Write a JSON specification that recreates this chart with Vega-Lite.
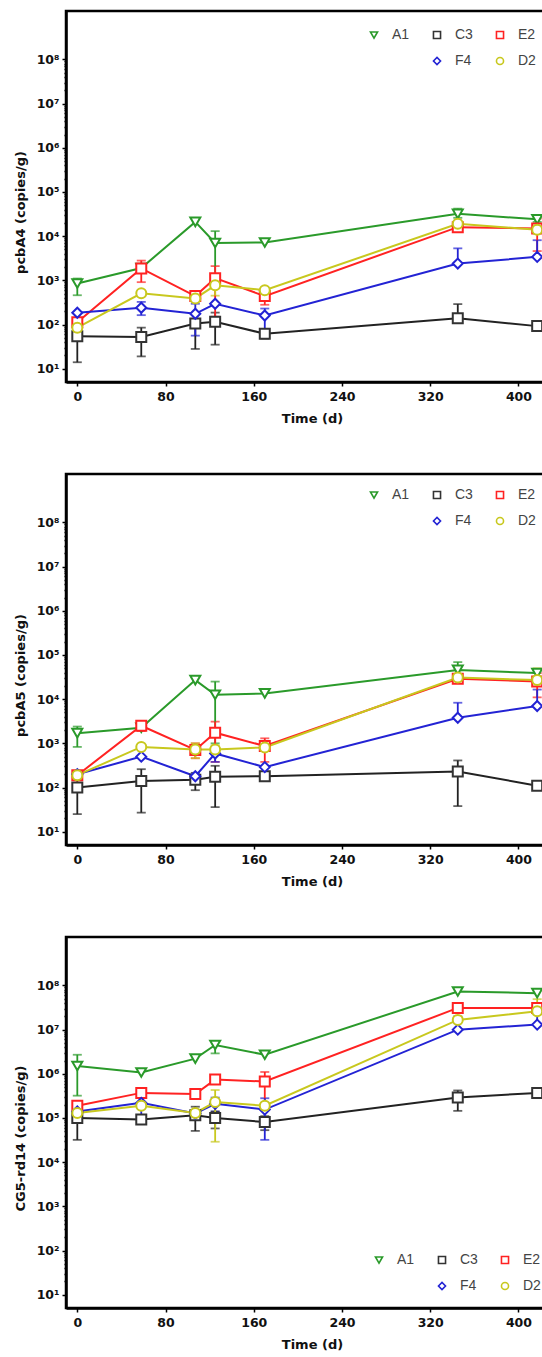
{
  "$schema": "https://vega.github.io/schema/vega-lite/v6.json",
  "background": "white",
  "padding": {"left": 12, "top": 9, "right": 0, "bottom": 0},
  "spacing": 45,
  "config": {
    "view": {"stroke": "black", "strokeWidth": 2.5},
    "axis": {"labelFont": "DejaVu Sans", "labelFontWeight": "bold", "labelFontSize": 12.5, "labelColor": "#111", "titleFont": "DejaVu Sans", "titleFontWeight": "bold", "titleFontSize": 13, "titleColor": "#111", "domainColor": "black", "domainWidth": 2.5, "tickColor": "black", "tickWidth": 1.5, "grid": false}
  },
  "datasets": {
    "d": [
      {"panel":"p1","series":"A1","t":0,"v":850,"lo":460,"hi":1100},
      {"panel":"p1","series":"A1","t":58,"v":1900,"lo":null,"hi":null},
      {"panel":"p1","series":"A1","t":107,"v":21000,"lo":null,"hi":null},
      {"panel":"p1","series":"A1","t":125,"v":7000,"lo":1000,"hi":13000},
      {"panel":"p1","series":"A1","t":170,"v":7200,"lo":null,"hi":null},
      {"panel":"p1","series":"A1","t":345,"v":32000,"lo":26000,"hi":42000},
      {"panel":"p1","series":"A1","t":417,"v":24000,"lo":21000,"hi":28000},
      {"panel":"p1","series":"C3","t":0,"v":54,"lo":14,"hi":95},
      {"panel":"p1","series":"C3","t":58,"v":52,"lo":19,"hi":85},
      {"panel":"p1","series":"C3","t":107,"v":105,"lo":28,"hi":180},
      {"panel":"p1","series":"C3","t":125,"v":115,"lo":35,"hi":186},
      {"panel":"p1","series":"C3","t":170,"v":62,"lo":48,"hi":76},
      {"panel":"p1","series":"C3","t":345,"v":138,"lo":138,"hi":290},
      {"panel":"p1","series":"C3","t":417,"v":92,"lo":null,"hi":null},
      {"panel":"p1","series":"E2","t":0,"v":113,"lo":null,"hi":null},
      {"panel":"p1","series":"E2","t":58,"v":1860,"lo":910,"hi":2800},
      {"panel":"p1","series":"E2","t":107,"v":440,"lo":null,"hi":null},
      {"panel":"p1","series":"E2","t":125,"v":1120,"lo":150,"hi":2100},
      {"panel":"p1","series":"E2","t":170,"v":440,"lo":280,"hi":560},
      {"panel":"p1","series":"E2","t":345,"v":16000,"lo":null,"hi":null},
      {"panel":"p1","series":"E2","t":417,"v":15000,"lo":4600,"hi":25000},
      {"panel":"p1","series":"F4","t":0,"v":185,"lo":null,"hi":null},
      {"panel":"p1","series":"F4","t":58,"v":240,"lo":163,"hi":325},
      {"panel":"p1","series":"F4","t":107,"v":175,"lo":56,"hi":295},
      {"panel":"p1","series":"F4","t":125,"v":295,"lo":null,"hi":null},
      {"panel":"p1","series":"F4","t":170,"v":160,"lo":74,"hi":230},
      {"panel":"p1","series":"F4","t":345,"v":2400,"lo":2400,"hi":5300},
      {"panel":"p1","series":"F4","t":417,"v":3400,"lo":3400,"hi":8100},
      {"panel":"p1","series":"D2","t":0,"v":85,"lo":52,"hi":118},
      {"panel":"p1","series":"D2","t":58,"v":510,"lo":null,"hi":null},
      {"panel":"p1","series":"D2","t":107,"v":390,"lo":null,"hi":null},
      {"panel":"p1","series":"D2","t":125,"v":770,"lo":450,"hi":1100},
      {"panel":"p1","series":"D2","t":170,"v":600,"lo":null,"hi":null},
      {"panel":"p1","series":"D2","t":345,"v":19000,"lo":null,"hi":null},
      {"panel":"p1","series":"D2","t":417,"v":14000,"lo":null,"hi":null},

      {"panel":"p2","series":"A1","t":0,"v":1700,"lo":830,"hi":2400},
      {"panel":"p2","series":"A1","t":58,"v":2250,"lo":null,"hi":null},
      {"panel":"p2","series":"A1","t":107,"v":27000,"lo":null,"hi":null},
      {"panel":"p2","series":"A1","t":125,"v":12600,"lo":1000,"hi":25000},
      {"panel":"p2","series":"A1","t":170,"v":13500,"lo":null,"hi":null},
      {"panel":"p2","series":"A1","t":345,"v":46000,"lo":30000,"hi":69000},
      {"panel":"p2","series":"A1","t":417,"v":39000,"lo":30000,"hi":48000},
      {"panel":"p2","series":"C3","t":0,"v":100,"lo":25,"hi":175},
      {"panel":"p2","series":"C3","t":58,"v":140,"lo":27,"hi":260},
      {"panel":"p2","series":"C3","t":107,"v":150,"lo":87,"hi":215},
      {"panel":"p2","series":"C3","t":125,"v":175,"lo":36,"hi":310},
      {"panel":"p2","series":"C3","t":170,"v":180,"lo":null,"hi":null},
      {"panel":"p2","series":"C3","t":345,"v":230,"lo":38,"hi":410},
      {"panel":"p2","series":"C3","t":417,"v":110,"lo":null,"hi":null},
      {"panel":"p2","series":"E2","t":0,"v":190,"lo":null,"hi":null},
      {"panel":"p2","series":"E2","t":58,"v":2500,"lo":1900,"hi":3100},
      {"panel":"p2","series":"E2","t":107,"v":710,"lo":460,"hi":1000},
      {"panel":"p2","series":"E2","t":125,"v":1740,"lo":380,"hi":3100},
      {"panel":"p2","series":"E2","t":170,"v":870,"lo":380,"hi":1300},
      {"panel":"p2","series":"E2","t":345,"v":29000,"lo":null,"hi":null},
      {"panel":"p2","series":"E2","t":417,"v":25000,"lo":11000,"hi":39000},
      {"panel":"p2","series":"F4","t":0,"v":200,"lo":null,"hi":null},
      {"panel":"p2","series":"F4","t":58,"v":500,"lo":null,"hi":null},
      {"panel":"p2","series":"F4","t":107,"v":180,"lo":null,"hi":null},
      {"panel":"p2","series":"F4","t":125,"v":590,"lo":380,"hi":800},
      {"panel":"p2","series":"F4","t":170,"v":290,"lo":null,"hi":null},
      {"panel":"p2","series":"F4","t":345,"v":3800,"lo":3800,"hi":8300},
      {"panel":"p2","series":"F4","t":417,"v":7000,"lo":7000,"hi":16500},
      {"panel":"p2","series":"D2","t":0,"v":190,"lo":null,"hi":null},
      {"panel":"p2","series":"D2","t":58,"v":830,"lo":null,"hi":null},
      {"panel":"p2","series":"D2","t":107,"v":730,"lo":460,"hi":1000},
      {"panel":"p2","series":"D2","t":125,"v":730,"lo":600,"hi":900},
      {"panel":"p2","series":"D2","t":170,"v":810,"lo":null,"hi":null},
      {"panel":"p2","series":"D2","t":345,"v":31000,"lo":31000,"hi":45000},
      {"panel":"p2","series":"D2","t":417,"v":27000,"lo":27000,"hi":50000},

      {"panel":"p3","series":"A1","t":0,"v":1.5e6,"lo":3.2e5,"hi":2.7e6},
      {"panel":"p3","series":"A1","t":58,"v":1.07e6,"lo":null,"hi":null},
      {"panel":"p3","series":"A1","t":107,"v":2.2e6,"lo":null,"hi":null},
      {"panel":"p3","series":"A1","t":125,"v":4.5e6,"lo":2.9e6,"hi":5.5e6},
      {"panel":"p3","series":"A1","t":170,"v":2.7e6,"lo":null,"hi":null},
      {"panel":"p3","series":"A1","t":345,"v":7.3e7,"lo":null,"hi":null},
      {"panel":"p3","series":"A1","t":417,"v":6.7e7,"lo":null,"hi":null},
      {"panel":"p3","series":"C3","t":0,"v":1.0e5,"lo":3.2e4,"hi":1.7e5},
      {"panel":"p3","series":"C3","t":58,"v":9.3e4,"lo":null,"hi":null},
      {"panel":"p3","series":"C3","t":107,"v":1.15e5,"lo":5.1e4,"hi":1.8e5},
      {"panel":"p3","series":"C3","t":125,"v":1.0e5,"lo":5.8e4,"hi":1.4e5},
      {"panel":"p3","series":"C3","t":170,"v":8.1e4,"lo":5.3e4,"hi":1.1e5},
      {"panel":"p3","series":"C3","t":345,"v":2.9e5,"lo":1.45e5,"hi":4.2e5},
      {"panel":"p3","series":"C3","t":417,"v":3.7e5,"lo":null,"hi":null},
      {"panel":"p3","series":"E2","t":0,"v":1.9e5,"lo":null,"hi":null},
      {"panel":"p3","series":"E2","t":58,"v":3.7e5,"lo":null,"hi":null},
      {"panel":"p3","series":"E2","t":107,"v":3.5e5,"lo":null,"hi":null},
      {"panel":"p3","series":"E2","t":125,"v":7.4e5,"lo":null,"hi":null},
      {"panel":"p3","series":"E2","t":170,"v":6.7e5,"lo":2.2e5,"hi":1.1e6},
      {"panel":"p3","series":"E2","t":345,"v":3.1e7,"lo":null,"hi":null},
      {"panel":"p3","series":"E2","t":417,"v":3.1e7,"lo":null,"hi":null},
      {"panel":"p3","series":"F4","t":0,"v":1.4e5,"lo":9.0e4,"hi":1.9e5},
      {"panel":"p3","series":"F4","t":58,"v":2.2e5,"lo":1.15e5,"hi":3.1e5},
      {"panel":"p3","series":"F4","t":107,"v":1.26e5,"lo":null,"hi":null},
      {"panel":"p3","series":"F4","t":125,"v":2.1e5,"lo":1.4e5,"hi":2.9e5},
      {"panel":"p3","series":"F4","t":170,"v":1.55e5,"lo":3.2e4,"hi":2.8e5},
      {"panel":"p3","series":"F4","t":345,"v":1.0e7,"lo":1.0e7,"hi":2.0e7},
      {"panel":"p3","series":"F4","t":417,"v":1.3e7,"lo":1.3e7,"hi":2.8e7},
      {"panel":"p3","series":"D2","t":0,"v":1.3e5,"lo":null,"hi":null},
      {"panel":"p3","series":"D2","t":58,"v":1.9e5,"lo":null,"hi":null},
      {"panel":"p3","series":"D2","t":107,"v":1.3e5,"lo":null,"hi":null},
      {"panel":"p3","series":"D2","t":125,"v":2.3e5,"lo":2.9e4,"hi":4.3e5},
      {"panel":"p3","series":"D2","t":170,"v":1.9e5,"lo":null,"hi":null},
      {"panel":"p3","series":"D2","t":345,"v":1.66e7,"lo":null,"hi":null},
      {"panel":"p3","series":"D2","t":417,"v":2.6e7,"lo":2.6e7,"hi":4.9e7}
    ]
  },
  "vconcat": [
    {
      "width": 480, "height": 371,
      "data": {"name": "d"},
      "transform": [{"filter": "datum.panel == 'p1'"}],
      "encoding": {"x": {"field": "t", "type": "quantitative", "scale": {"domain": [-10.25, 425], "nice": false, "zero": false}, "axis": {"values": [0,80,160,240,320,400], "title": "Time (d)", "titleX": 246, "tickSize": 4, "labelPadding": 4, "titlePadding": 10}}},
      "layer": [
        {"transform": [{"filter": "datum.hi != null"}],
         "mark": {"type": "errorbar", "ticks": {"size": 9, "thickness": 1.8}, "rule": {"strokeWidth": 1.8}},
         "encoding": {
           "y": {"field": "lo", "type": "quantitative", "scale": {"type": "log", "domain": [5, 1.25e9], "nice": false}, "axis": {"title": "pcbA4 (copies/g)", "titleY": 201, "titlePadding": 9, "labelPadding": 3, "values": [10,20,30,40,50,60,70,80,90,100,200,300,400,500,600,700,800,900,1000,2000,3000,4000,5000,6000,7000,8000,9000,10000,20000,30000,40000,50000,60000,70000,80000,90000,100000,200000,300000,400000,500000,600000,700000,800000,900000,1000000,2000000,3000000,4000000,5000000,6000000,7000000,8000000,9000000,10000000,20000000,30000000,40000000,50000000,60000000,70000000,80000000,90000000,100000000], "labelExpr": "abs(log(datum.value)/LN10 - round(log(datum.value)/LN10)) < 0.01 ? '10' + ['⁰','¹','²','³','⁴','⁵','⁶','⁷','⁸','⁹'][round(log(datum.value)/LN10)] : ''", "tickSize": {"condition": {"test": "abs(log(datum.value)/LN10 - round(log(datum.value)/LN10)) < 0.01", "value": 4}, "value": 2}}},
           "y2": {"field": "hi"},
           "color": {"field": "series", "type": "nominal", "scale": {"domain": ["A1","C3","E2","F4","D2"], "range": ["#2a9a2a","#222222","#ff2222","#2323d4","#c8c81e"]}, "legend": null}
         }},
        {"mark": {"type": "line", "strokeWidth": 2},
         "encoding": {
           "y": {"field": "v", "type": "quantitative", "scale": {"type": "log", "domain": [5, 1.25e9], "nice": false}, "axis": {"title": "pcbA4 (copies/g)", "titleY": 201, "titlePadding": 9, "labelPadding": 3, "values": [10,20,30,40,50,60,70,80,90,100,200,300,400,500,600,700,800,900,1000,2000,3000,4000,5000,6000,7000,8000,9000,10000,20000,30000,40000,50000,60000,70000,80000,90000,100000,200000,300000,400000,500000,600000,700000,800000,900000,1000000,2000000,3000000,4000000,5000000,6000000,7000000,8000000,9000000,10000000,20000000,30000000,40000000,50000000,60000000,70000000,80000000,90000000,100000000], "labelExpr": "abs(log(datum.value)/LN10 - round(log(datum.value)/LN10)) < 0.01 ? '10' + ['⁰','¹','²','³','⁴','⁵','⁶','⁷','⁸','⁹'][round(log(datum.value)/LN10)] : ''", "tickSize": {"condition": {"test": "abs(log(datum.value)/LN10 - round(log(datum.value)/LN10)) < 0.01", "value": 4}, "value": 2}}},
           "color": {"field": "series", "type": "nominal", "scale": {"domain": ["A1","C3","E2","F4","D2"], "range": ["#2a9a2a","#222222","#ff2222","#2323d4","#c8c81e"]}, "legend": null}
         }},
        {"mark": {"type": "point", "fill": "white", "size": 100, "strokeWidth": 2, "opacity": 1},
         "encoding": {
           "y": {"field": "v", "type": "quantitative", "scale": {"type": "log", "domain": [5, 1.25e9], "nice": false}, "axis": {"title": "pcbA4 (copies/g)", "titleY": 201, "titlePadding": 9, "labelPadding": 3, "values": [10,20,30,40,50,60,70,80,90,100,200,300,400,500,600,700,800,900,1000,2000,3000,4000,5000,6000,7000,8000,9000,10000,20000,30000,40000,50000,60000,70000,80000,90000,100000,200000,300000,400000,500000,600000,700000,800000,900000,1000000,2000000,3000000,4000000,5000000,6000000,7000000,8000000,9000000,10000000,20000000,30000000,40000000,50000000,60000000,70000000,80000000,90000000,100000000], "labelExpr": "abs(log(datum.value)/LN10 - round(log(datum.value)/LN10)) < 0.01 ? '10' + ['⁰','¹','²','³','⁴','⁵','⁶','⁷','⁸','⁹'][round(log(datum.value)/LN10)] : ''", "tickSize": {"condition": {"test": "abs(log(datum.value)/LN10 - round(log(datum.value)/LN10)) < 0.01", "value": 4}, "value": 2}}},
           "stroke": {"field": "series", "type": "nominal", "scale": {"domain": ["A1","C3","E2","_","F4","D2"], "range": ["#2a9a2a","#333333","#ff2222","rgba(0,0,0,0)","#2323d4","#c8c81e"]}, "legend": {"orient": "none", "legendX": 301, "legendY": 17, "columns": 3, "title": null, "direction": "horizontal", "labelExpr": "datum.label == '_' ? '' : datum.label", "symbolSize": 50, "symbolStrokeWidth": 1.6, "symbolFillColor": "white", "labelFont": "Liberation Sans", "labelFontSize": 14, "labelColor": "#444", "labelOffset": 11, "columnPadding": 20, "rowPadding": 12, "padding": 0}},
           "shape": {"field": "series", "type": "nominal", "scale": {"domain": ["A1","C3","E2","_","F4","D2"], "range": ["triangle-down","square","square","circle","diamond","circle"]}, "legend": {"orient": "none", "legendX": 301, "legendY": 17, "columns": 3, "title": null, "direction": "horizontal", "labelExpr": "datum.label == '_' ? '' : datum.label", "symbolSize": 50, "symbolStrokeWidth": 1.6, "symbolFillColor": "white", "labelFont": "Liberation Sans", "labelFontSize": 14, "labelColor": "#444", "labelOffset": 11, "columnPadding": 20, "rowPadding": 12, "padding": 0}}
         }}
      ]
    },
    {
      "width": 480, "height": 371,
      "data": {"name": "d"},
      "transform": [{"filter": "datum.panel == 'p2'"}],
      "encoding": {"x": {"field": "t", "type": "quantitative", "scale": {"domain": [-10.25, 425], "nice": false, "zero": false}, "axis": {"values": [0,80,160,240,320,400], "title": "Time (d)", "titleX": 246, "tickSize": 4, "labelPadding": 4, "titlePadding": 10}}},
      "layer": [
        {"transform": [{"filter": "datum.hi != null"}],
         "mark": {"type": "errorbar", "ticks": {"size": 9, "thickness": 1.8}, "rule": {"strokeWidth": 1.8}},
         "encoding": {
           "y": {"field": "lo", "type": "quantitative", "scale": {"type": "log", "domain": [5, 1.25e9], "nice": false}, "axis": {"title": "pcbA5 (copies/g)", "titleY": 201, "titlePadding": 9, "labelPadding": 3, "values": [10,20,30,40,50,60,70,80,90,100,200,300,400,500,600,700,800,900,1000,2000,3000,4000,5000,6000,7000,8000,9000,10000,20000,30000,40000,50000,60000,70000,80000,90000,100000,200000,300000,400000,500000,600000,700000,800000,900000,1000000,2000000,3000000,4000000,5000000,6000000,7000000,8000000,9000000,10000000,20000000,30000000,40000000,50000000,60000000,70000000,80000000,90000000,100000000], "labelExpr": "abs(log(datum.value)/LN10 - round(log(datum.value)/LN10)) < 0.01 ? '10' + ['⁰','¹','²','³','⁴','⁵','⁶','⁷','⁸','⁹'][round(log(datum.value)/LN10)] : ''", "tickSize": {"condition": {"test": "abs(log(datum.value)/LN10 - round(log(datum.value)/LN10)) < 0.01", "value": 4}, "value": 2}}},
           "y2": {"field": "hi"},
           "color": {"field": "series", "type": "nominal", "scale": {"domain": ["A1","C3","E2","F4","D2"], "range": ["#2a9a2a","#222222","#ff2222","#2323d4","#c8c81e"]}, "legend": null}
         }},
        {"mark": {"type": "line", "strokeWidth": 2},
         "encoding": {
           "y": {"field": "v", "type": "quantitative", "scale": {"type": "log", "domain": [5, 1.25e9], "nice": false}, "axis": {"title": "pcbA5 (copies/g)", "titleY": 201, "titlePadding": 9, "labelPadding": 3, "values": [10,20,30,40,50,60,70,80,90,100,200,300,400,500,600,700,800,900,1000,2000,3000,4000,5000,6000,7000,8000,9000,10000,20000,30000,40000,50000,60000,70000,80000,90000,100000,200000,300000,400000,500000,600000,700000,800000,900000,1000000,2000000,3000000,4000000,5000000,6000000,7000000,8000000,9000000,10000000,20000000,30000000,40000000,50000000,60000000,70000000,80000000,90000000,100000000], "labelExpr": "abs(log(datum.value)/LN10 - round(log(datum.value)/LN10)) < 0.01 ? '10' + ['⁰','¹','²','³','⁴','⁵','⁶','⁷','⁸','⁹'][round(log(datum.value)/LN10)] : ''", "tickSize": {"condition": {"test": "abs(log(datum.value)/LN10 - round(log(datum.value)/LN10)) < 0.01", "value": 4}, "value": 2}}},
           "color": {"field": "series", "type": "nominal", "scale": {"domain": ["A1","C3","E2","F4","D2"], "range": ["#2a9a2a","#222222","#ff2222","#2323d4","#c8c81e"]}, "legend": null}
         }},
        {"mark": {"type": "point", "fill": "white", "size": 100, "strokeWidth": 2, "opacity": 1},
         "encoding": {
           "y": {"field": "v", "type": "quantitative", "scale": {"type": "log", "domain": [5, 1.25e9], "nice": false}, "axis": {"title": "pcbA5 (copies/g)", "titleY": 201, "titlePadding": 9, "labelPadding": 3, "values": [10,20,30,40,50,60,70,80,90,100,200,300,400,500,600,700,800,900,1000,2000,3000,4000,5000,6000,7000,8000,9000,10000,20000,30000,40000,50000,60000,70000,80000,90000,100000,200000,300000,400000,500000,600000,700000,800000,900000,1000000,2000000,3000000,4000000,5000000,6000000,7000000,8000000,9000000,10000000,20000000,30000000,40000000,50000000,60000000,70000000,80000000,90000000,100000000], "labelExpr": "abs(log(datum.value)/LN10 - round(log(datum.value)/LN10)) < 0.01 ? '10' + ['⁰','¹','²','³','⁴','⁵','⁶','⁷','⁸','⁹'][round(log(datum.value)/LN10)] : ''", "tickSize": {"condition": {"test": "abs(log(datum.value)/LN10 - round(log(datum.value)/LN10)) < 0.01", "value": 4}, "value": 2}}},
           "stroke": {"field": "series", "type": "nominal", "scale": {"domain": ["A1","C3","E2","_","F4","D2"], "range": ["#2a9a2a","#333333","#ff2222","rgba(0,0,0,0)","#2323d4","#c8c81e"]}, "legend": {"orient": "none", "legendX": 301, "legendY": 14, "columns": 3, "title": null, "direction": "horizontal", "labelExpr": "datum.label == '_' ? '' : datum.label", "symbolSize": 50, "symbolStrokeWidth": 1.6, "symbolFillColor": "white", "labelFont": "Liberation Sans", "labelFontSize": 14, "labelColor": "#444", "labelOffset": 11, "columnPadding": 20, "rowPadding": 12, "padding": 0}},
           "shape": {"field": "series", "type": "nominal", "scale": {"domain": ["A1","C3","E2","_","F4","D2"], "range": ["triangle-down","square","square","circle","diamond","circle"]}, "legend": {"orient": "none", "legendX": 301, "legendY": 14, "columns": 3, "title": null, "direction": "horizontal", "labelExpr": "datum.label == '_' ? '' : datum.label", "symbolSize": 50, "symbolStrokeWidth": 1.6, "symbolFillColor": "white", "labelFont": "Liberation Sans", "labelFontSize": 14, "labelColor": "#444", "labelOffset": 11, "columnPadding": 20, "rowPadding": 12, "padding": 0}}
         }}
      ]
    },
    {
      "width": 480, "height": 371,
      "data": {"name": "d"},
      "transform": [{"filter": "datum.panel == 'p3'"}],
      "encoding": {"x": {"field": "t", "type": "quantitative", "scale": {"domain": [-10.25, 425], "nice": false, "zero": false}, "axis": {"values": [0,80,160,240,320,400], "title": "Time (d)", "titleX": 246, "tickSize": 4, "labelPadding": 4, "titlePadding": 10}}},
      "layer": [
        {"transform": [{"filter": "datum.hi != null"}],
         "mark": {"type": "errorbar", "ticks": {"size": 9, "thickness": 1.8}, "rule": {"strokeWidth": 1.8}},
         "encoding": {
           "y": {"field": "lo", "type": "quantitative", "scale": {"type": "log", "domain": [5, 1.25e9], "nice": false}, "axis": {"title": "CG5-rd14 (copies/g)", "titleY": 201, "titlePadding": 9, "labelPadding": 3, "values": [10,20,30,40,50,60,70,80,90,100,200,300,400,500,600,700,800,900,1000,2000,3000,4000,5000,6000,7000,8000,9000,10000,20000,30000,40000,50000,60000,70000,80000,90000,100000,200000,300000,400000,500000,600000,700000,800000,900000,1000000,2000000,3000000,4000000,5000000,6000000,7000000,8000000,9000000,10000000,20000000,30000000,40000000,50000000,60000000,70000000,80000000,90000000,100000000], "labelExpr": "abs(log(datum.value)/LN10 - round(log(datum.value)/LN10)) < 0.01 ? '10' + ['⁰','¹','²','³','⁴','⁵','⁶','⁷','⁸','⁹'][round(log(datum.value)/LN10)] : ''", "tickSize": {"condition": {"test": "abs(log(datum.value)/LN10 - round(log(datum.value)/LN10)) < 0.01", "value": 4}, "value": 2}}},
           "y2": {"field": "hi"},
           "color": {"field": "series", "type": "nominal", "scale": {"domain": ["A1","C3","E2","F4","D2"], "range": ["#2a9a2a","#222222","#ff2222","#2323d4","#c8c81e"]}, "legend": null}
         }},
        {"mark": {"type": "line", "strokeWidth": 2},
         "encoding": {
           "y": {"field": "v", "type": "quantitative", "scale": {"type": "log", "domain": [5, 1.25e9], "nice": false}, "axis": {"title": "CG5-rd14 (copies/g)", "titleY": 201, "titlePadding": 9, "labelPadding": 3, "values": [10,20,30,40,50,60,70,80,90,100,200,300,400,500,600,700,800,900,1000,2000,3000,4000,5000,6000,7000,8000,9000,10000,20000,30000,40000,50000,60000,70000,80000,90000,100000,200000,300000,400000,500000,600000,700000,800000,900000,1000000,2000000,3000000,4000000,5000000,6000000,7000000,8000000,9000000,10000000,20000000,30000000,40000000,50000000,60000000,70000000,80000000,90000000,100000000], "labelExpr": "abs(log(datum.value)/LN10 - round(log(datum.value)/LN10)) < 0.01 ? '10' + ['⁰','¹','²','³','⁴','⁵','⁶','⁷','⁸','⁹'][round(log(datum.value)/LN10)] : ''", "tickSize": {"condition": {"test": "abs(log(datum.value)/LN10 - round(log(datum.value)/LN10)) < 0.01", "value": 4}, "value": 2}}},
           "color": {"field": "series", "type": "nominal", "scale": {"domain": ["A1","C3","E2","F4","D2"], "range": ["#2a9a2a","#222222","#ff2222","#2323d4","#c8c81e"]}, "legend": null}
         }},
        {"mark": {"type": "point", "fill": "white", "size": 100, "strokeWidth": 2, "opacity": 1},
         "encoding": {
           "y": {"field": "v", "type": "quantitative", "scale": {"type": "log", "domain": [5, 1.25e9], "nice": false}, "axis": {"title": "CG5-rd14 (copies/g)", "titleY": 201, "titlePadding": 9, "labelPadding": 3, "values": [10,20,30,40,50,60,70,80,90,100,200,300,400,500,600,700,800,900,1000,2000,3000,4000,5000,6000,7000,8000,9000,10000,20000,30000,40000,50000,60000,70000,80000,90000,100000,200000,300000,400000,500000,600000,700000,800000,900000,1000000,2000000,3000000,4000000,5000000,6000000,7000000,8000000,9000000,10000000,20000000,30000000,40000000,50000000,60000000,70000000,80000000,90000000,100000000], "labelExpr": "abs(log(datum.value)/LN10 - round(log(datum.value)/LN10)) < 0.01 ? '10' + ['⁰','¹','²','³','⁴','⁵','⁶','⁷','⁸','⁹'][round(log(datum.value)/LN10)] : ''", "tickSize": {"condition": {"test": "abs(log(datum.value)/LN10 - round(log(datum.value)/LN10)) < 0.01", "value": 4}, "value": 2}}},
           "stroke": {"field": "series", "type": "nominal", "scale": {"domain": ["A1","C3","E2","_","F4","D2"], "range": ["#2a9a2a","#333333","#ff2222","rgba(0,0,0,0)","#2323d4","#c8c81e"]}, "legend": {"orient": "none", "legendX": 306, "legendY": 316, "columns": 3, "title": null, "direction": "horizontal", "labelExpr": "datum.label == '_' ? '' : datum.label", "symbolSize": 50, "symbolStrokeWidth": 1.6, "symbolFillColor": "white", "labelFont": "Liberation Sans", "labelFontSize": 14, "labelColor": "#444", "labelOffset": 11, "columnPadding": 20, "rowPadding": 12, "padding": 0}},
           "shape": {"field": "series", "type": "nominal", "scale": {"domain": ["A1","C3","E2","_","F4","D2"], "range": ["triangle-down","square","square","circle","diamond","circle"]}, "legend": {"orient": "none", "legendX": 306, "legendY": 316, "columns": 3, "title": null, "direction": "horizontal", "labelExpr": "datum.label == '_' ? '' : datum.label", "symbolSize": 50, "symbolStrokeWidth": 1.6, "symbolFillColor": "white", "labelFont": "Liberation Sans", "labelFontSize": 14, "labelColor": "#444", "labelOffset": 11, "columnPadding": 20, "rowPadding": 12, "padding": 0}}
         }}
      ]
    }
  ],
  "resolve": {
    "scale": {"color": "independent", "stroke": "independent", "shape": "independent"},
    "legend": {"color": "independent", "stroke": "independent", "shape": "independent"}
  }
}
